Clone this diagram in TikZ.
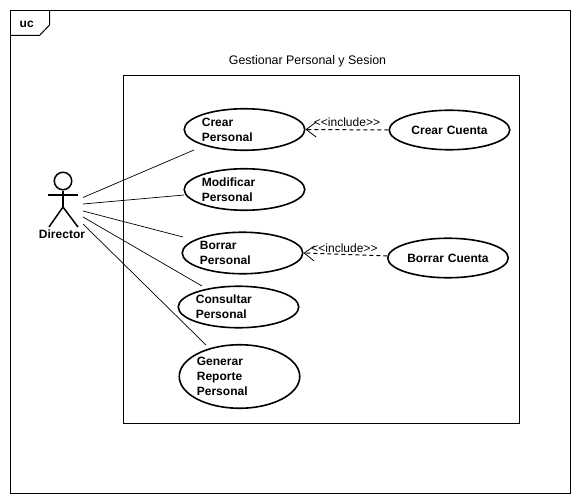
\documentclass[tikz,border=0pt]{standalone}
\usepackage{fontspec}
\setmainfont{Liberation Sans}
\usetikzlibrary{shapes.geometric,arrows.meta}
\newlength{\du}
\setlength{\du}{1pt}
\tikzset{
  usecase/.style={draw=black,fill=white,ellipse,line width=1.6pt,inner sep=0pt,
    minimum width=120\du,minimum height=41.5\du,text width=85.2\du,align=left,
    font=\fontsize{12}{15}\selectfont\bfseries},
  usecasec/.style={usecase,align=center,minimum height=39.5\du},
  frameline/.style={draw=black,line width=1pt},
  assoc/.style={draw=black,line width=0.7pt},
  incl/.style={draw=black,line width=1pt,dash pattern=on 4pt off 3pt,
    -{Straight Barb[length=10pt,width=15pt,line width=0.8pt]}},
  actorline/.style={draw=black,line width=1.5pt},
  plainlabel/.style={font=\fontsize{12}{15}\selectfont,inner sep=0pt},
  boldlabel/.style={font=\fontsize{12}{15}\selectfont\bfseries,inner sep=0pt}
}

\begin{document}
\begin{tikzpicture}
\pgftransformxscale{1.000000}
\pgftransformyscale{-1.000000}
\useasboundingbox (0\du,0\du) rectangle (586\du,503\du);
\fill[white] (0\du,0\du) rectangle (586\du,503\du);
% frames
\draw[frameline] (10.5\du,10.5\du) rectangle (570.5\du,493\du);
\draw[frameline] (49.5\du,10.5\du)--(49.5\du,25\du)--(39.5\du,35.5\du)--(10.5\du,35.5\du);
\node[boldlabel,anchor=west] (ucLabel) at (19.5\du,24\du){uc};
\draw[frameline] (123.5\du,75.5\du) rectangle (519.5\du,423.5\du);
\node[plainlabel] (boundaryLabel) at (307.5\du,61.5\du){\fontsize{12.4}{15}\selectfont Gestionar Personal y Sesion};
% actor
\node[draw=black,circle,line width=1.5pt,minimum size=17.5\du,inner sep=0pt] (directorHead) at (63\du,181\du){};
\coordinate (directorHip) at (63\du,207\du);
\coordinate (directorArmL) at (48\du,195\du);
\coordinate (directorArmR) at (78\du,195\du);
\coordinate (directorFootL) at (49\du,227\du);
\coordinate (directorFootR) at (78\du,227\du);
\draw[actorline] (directorHead)--(directorHip);
\draw[actorline] (directorArmL)--(directorArmR);
\draw[actorline] (directorFootL)--(directorHip)--(directorFootR);
\node[boldlabel] (directorLabel) at (62\du,234.5\du){Director};
% use cases
\node[usecase] (crearPersonal) at (244.5\du,129.5\du){Crear\\Personal};
\node[usecase] (modificarPersonal) at (244.5\du,189.5\du){Modificar\\Personal};
\node[usecase] (borrarPersonal) at (242.5\du,253\du){Borrar\\Personal};
\node[usecase] (consultarPersonal) at (238.5\du,307\du){Consultar\\Personal};
\node[usecase,minimum height=63.5\du] (generarReporte) at (239.5\du,376.5\du){Generar\\Reporte\\Personal};
\node[usecasec] (crearCuenta) at (449.5\du,130\du){Crear Cuenta};
\node[usecasec] (borrarCuenta) at (448\du,258\du){Borrar Cuenta};
% associations
\coordinate (directorA) at (83\du,197.5\du);
\coordinate (directorB) at (83\du,204\du);
\coordinate (directorC) at (83\du,211\du);
\coordinate (directorD) at (83\du,217\du);
\coordinate (directorE) at (83\du,224\du);
\coordinate (crearEnd) at (194\du,150\du);
\coordinate (modificarEnd) at (184\du,195\du);
\coordinate (borrarEnd) at (183\du,237\du);
\coordinate (consultarEnd) at (202\du,286\du);
\coordinate (generarEnd) at (206\du,345\du);
\draw[assoc] (directorA)--(crearEnd);
\draw[assoc] (directorB)--(modificarEnd);
\draw[assoc] (directorC)--(borrarEnd);
\draw[assoc] (directorD)--(consultarEnd);
\draw[assoc] (directorE)--(generarEnd);
% include
\draw[incl] (crearCuenta.west)--(crearPersonal.east);
\draw[incl] (borrarCuenta.178)--(borrarPersonal.east);
\node[plainlabel] (includeA) at (347\du,122.5\du){<{}<include>{}>};
\node[plainlabel] (includeB) at (344.5\du,248.5\du){<{}<include>{}>};
\end{tikzpicture}
\end{document}
